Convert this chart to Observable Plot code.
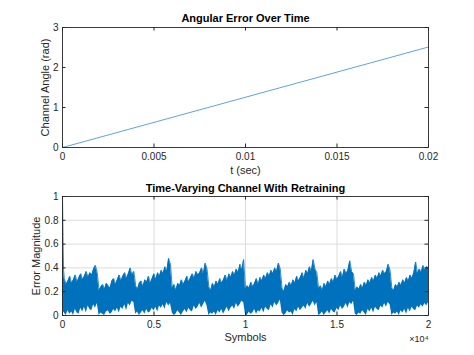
<!DOCTYPE html>
<html>
<head>
<meta charset="utf-8">
<script src="https://cdn.jsdelivr.net/npm/d3@7"></script>
<script src="https://cdn.jsdelivr.net/npm/@observablehq/plot@0.6"></script>
<style>
  html, body { margin: 0; padding: 0; background: #fff; }
  #chart { width: 474px; height: 355px; overflow: hidden; }
  #chart svg { display: block; }
</style>
</head>
<body>
<div id="chart"></div>
<script>
// ---------- Top subplot: Angular Error Over Time ----------
const topTitle = "Angular Error Over Time";
const topXLabel = "t (sec)";
const topYLabel = "Channel Angle (rad)";
const timeSec = [0, 0.005, 0.01, 0.015, 0.02];
const channelAngle = [0, 0.628, 1.257, 1.885, 2.513];
const topXTicks = [0, 0.005, 0.01, 0.015, 0.02];
const topXTickLabels = ["0", "0.005", "0.01", "0.015", "0.02"];
const topYTicks = [0, 1, 2, 3];
const topXDomain = [0, 0.02];
const topYDomain = [0, 3];

// ---------- Bottom subplot: Time-Varying Channel With Retraining ----------
const botTitle = "Time-Varying Channel With Retraining";
const botXLabel = "Symbols";
const botYLabel = "Error Magnitude";
const botXExponent = "×10⁴";
const botXTicks = [0, 5000, 10000, 15000, 20000];
const botXTickLabels = ["0", "0.5", "1", "1.5", "2"];
const botYTicks = [0, 0.2, 0.4, 0.6, 0.8, 1];
const botYTickLabels = ["0", "0.2", "0.4", "0.6", "0.8", "1"];
const botXDomain = [0, 20000];
const botYDomain = [0, 1];

// initial convergence transient (symbols 0..60)
const transientSym = [0, 20, 40, 60];
const transientHi  = [1.0, 0.78, 0.55, 0.38];
const transientLo  = [0.0, 0.08, 0.05, 0.03];

// error envelope sampled every 100 symbols from 100 to 20000 (upper / lower edge of the noisy trace)
const errHi = [
  // 100..1900
  0.31,0.26,0.29,0.33,0.27,0.30,0.34,0.28,0.32,0.35,0.30,0.33,0.37,0.32,0.36,0.34,0.39,0.42,0.36,
  // 2000..3900
  0.21,0.24,0.26,0.22,0.27,0.25,0.23,0.29,0.31,0.26,0.30,0.34,0.29,0.33,0.36,0.31,0.35,0.40,0.34,0.37,
  // 4000..5900
  0.25,0.22,0.27,0.29,0.24,0.30,0.28,0.33,0.27,0.31,0.35,0.30,0.36,0.33,0.38,0.35,0.41,0.37,0.48,0.43,
  // 6000..7900
  0.23,0.26,0.21,0.27,0.25,0.30,0.26,0.29,0.33,0.28,0.32,0.35,0.31,0.37,0.34,0.36,0.40,0.35,0.44,0.39,
  // 8000..9900
  0.24,0.21,0.27,0.24,0.29,0.26,0.31,0.27,0.30,0.34,0.29,0.35,0.32,0.37,0.34,0.39,0.36,0.43,0.38,0.47,
  // 10000..11900
  0.22,0.25,0.23,0.28,0.24,0.27,0.31,0.26,0.32,0.29,0.34,0.31,0.36,0.33,0.38,0.35,0.40,0.37,0.44,0.39,
  // 12000..13900
  0.23,0.20,0.26,0.24,0.28,0.25,0.30,0.27,0.33,0.29,0.32,0.36,0.31,0.38,0.35,0.41,0.37,0.47,0.39,0.36,
  // 14000..15900
  0.22,0.25,0.21,0.27,0.24,0.29,0.26,0.31,0.28,0.34,0.30,0.33,0.37,0.32,0.39,0.35,0.38,0.46,0.37,0.35,
  // 16000..17900
  0.21,0.24,0.22,0.26,0.23,0.28,0.25,0.30,0.27,0.32,0.29,0.34,0.31,0.36,0.33,0.38,0.35,0.37,0.43,0.38,
  // 18000..20000
  0.23,0.21,0.26,0.24,0.28,0.25,0.30,0.27,0.32,0.29,0.34,0.31,0.36,0.45,0.35,0.39,0.36,0.42,0.38,0.41,0.40
];
const errLo = [
  0.02,0.00,0.04,0.01,0.03,0.00,0.05,0.02,0.01,0.06,0.03,0.07,0.02,0.08,0.05,0.04,0.09,0.06,0.10,
  0.00,0.02,0.01,0.00,0.03,0.04,0.01,0.02,0.05,0.03,0.06,0.02,0.07,0.05,0.09,0.04,0.10,0.08,0.12,0.11,
  0.01,0.03,0.00,0.02,0.04,0.01,0.05,0.02,0.03,0.06,0.04,0.07,0.03,0.08,0.06,0.09,0.05,0.11,0.08,0.10,
  0.02,0.00,0.01,0.04,0.02,0.00,0.03,0.05,0.02,0.06,0.04,0.03,0.08,0.05,0.07,0.10,0.06,0.09,0.12,0.08,
  0.00,0.02,0.01,0.03,0.00,0.04,0.02,0.05,0.01,0.04,0.07,0.03,0.06,0.08,0.05,0.10,0.07,0.09,0.12,0.11,
  0.01,0.00,0.03,0.01,0.02,0.05,0.01,0.04,0.03,0.06,0.02,0.07,0.05,0.04,0.09,0.06,0.11,0.08,0.10,0.13,
  0.02,0.00,0.01,0.04,0.02,0.03,0.00,0.05,0.03,0.07,0.04,0.06,0.08,0.05,0.10,0.07,0.09,0.12,0.08,0.11,
  0.00,0.01,0.03,0.00,0.02,0.04,0.01,0.05,0.03,0.02,0.06,0.04,0.08,0.05,0.07,0.10,0.06,0.11,0.09,0.12,
  0.01,0.00,0.02,0.01,0.04,0.02,0.00,0.05,0.03,0.06,0.02,0.07,0.05,0.04,0.08,0.06,0.10,0.07,0.11,0.09,
  0.00,0.02,0.01,0.03,0.00,0.04,0.02,0.05,0.01,0.06,0.03,0.07,0.05,0.04,0.08,0.06,0.09,0.07,0.10,0.08,0.11
];
const errStep = 100;

// ---------- build tables ----------
const angleData = timeSec.map((t, i) => ({t, a: channelAngle[i]}));
const band = transientSym.map((s, i) => ({s, lo: transientLo[i], hi: transientHi[i]}))
  .concat(errHi.map((h, i) => ({s: (i + 1) * errStep, lo: errLo[i], hi: h})));

const FONT = "'Liberation Sans', Arial, Helvetica, sans-serif";
const AX = "#262626";
const BLUE = "#0072BD";
const W = 474, ML = 62, MR = 46;
const TICKLEN = 3.5;

function inwardTicks(xTicks, yTicks, fh, fw) {
  return [
    Plot.ruleX(xTicks, {stroke: AX, insetTop: fh - TICKLEN}),
    Plot.ruleX(xTicks, {stroke: AX, insetBottom: fh - TICKLEN}),
    Plot.ruleY(yTicks, {stroke: AX, insetRight: fw - TICKLEN}),
    Plot.ruleY(yTicks, {stroke: AX, insetLeft: fw - TICKLEN})
  ];
}

// top subplot
const H1 = 177, MT1 = 27, MB1 = 30;
const fh1 = H1 - MT1 - MB1, fw = W - ML - MR;
const topChart = Plot.plot({
  width: W, height: H1, marginLeft: ML, marginRight: MR, marginTop: MT1, marginBottom: MB1,
  style: {fontFamily: FONT, fontSize: "10px", color: AX, background: "#fff"},
  x: {domain: topXDomain},
  y: {domain: topYDomain},
  marks: [
    Plot.line(angleData, {x: "t", y: "a", stroke: BLUE, strokeWidth: 0.8, strokeOpacity: 0.8}),
    Plot.frame({stroke: AX, strokeWidth: 0.9}),
    ...inwardTicks(topXTicks, topYTicks, fh1, fw),
    Plot.axisX({ticks: topXTicks, tickFormat: (d, i) => topXTickLabels[i], tickSize: 0, tickPadding: 5, label: null, fontSize: 10}),
    Plot.axisY({ticks: topYTicks, tickFormat: d => String(d), tickSize: 0, tickPadding: 4, label: null, fontSize: 10}),
    Plot.text([topXLabel], {frameAnchor: "bottom", dy: 23, lineAnchor: "middle", textAnchor: "middle", fontSize: 11, fill: AX}),
    Plot.text([topYLabel], {frameAnchor: "left", dx: -17, rotate: -90, lineAnchor: "middle", textAnchor: "middle", fontSize: 11, fill: AX}),
    Plot.text([topTitle], {frameAnchor: "top", dy: -9, lineAnchor: "middle", textAnchor: "middle", fontSize: 11, fontWeight: "bold", fill: "#000"})
  ]
});

// bottom subplot
const H2 = 178, MT2 = 19, MB2 = 40;
const fh2 = H2 - MT2 - MB2;
const bottomChart = Plot.plot({
  width: W, height: H2, marginLeft: ML, marginRight: MR, marginTop: MT2, marginBottom: MB2,
  style: {fontFamily: FONT, fontSize: "10px", color: AX, background: "#fff"},
  x: {domain: botXDomain},
  y: {domain: botYDomain},
  marks: [
    Plot.gridX(botXTicks.slice(1, -1), {stroke: "#dcdcdc", strokeOpacity: 1}),
    Plot.gridY(botYTicks.slice(1, -1), {stroke: "#dcdcdc", strokeOpacity: 1}),
    Plot.areaY(band, {x: "s", y1: "lo", y2: "hi", fill: BLUE}),
    Plot.line(band, {x: "s", y: "hi", stroke: BLUE, strokeWidth: 0.8}),
    Plot.frame({stroke: AX, strokeWidth: 0.9}),
    ...inwardTicks(botXTicks, botYTicks, fh2, fw),
    Plot.axisX({ticks: botXTicks, tickFormat: (d, i) => botXTickLabels[i], tickSize: 0, tickPadding: 5, label: null, fontSize: 10}),
    Plot.axisY({ticks: botYTicks, tickFormat: (d, i) => botYTickLabels[i], tickSize: 0, tickPadding: 4, label: null, fontSize: 10}),
    Plot.text([botXLabel], {frameAnchor: "bottom", dy: 22, lineAnchor: "middle", textAnchor: "middle", fontSize: 11, fill: AX}),
    Plot.text([botXExponent], {frameAnchor: "bottom-right", dy: 24, lineAnchor: "middle", textAnchor: "end", fontSize: 9, fill: AX}),
    Plot.text([botYLabel], {frameAnchor: "left", dx: -26, rotate: -90, lineAnchor: "middle", textAnchor: "middle", fontSize: 11, fill: AX}),
    Plot.text([botTitle], {frameAnchor: "top", dy: -8.5, lineAnchor: "middle", textAnchor: "middle", fontSize: 11, fontWeight: "bold", fill: "#000"})
  ]
});

const chart = document.getElementById("chart");
chart.appendChild(topChart);
chart.appendChild(bottomChart);
</script>
</body>
</html>
